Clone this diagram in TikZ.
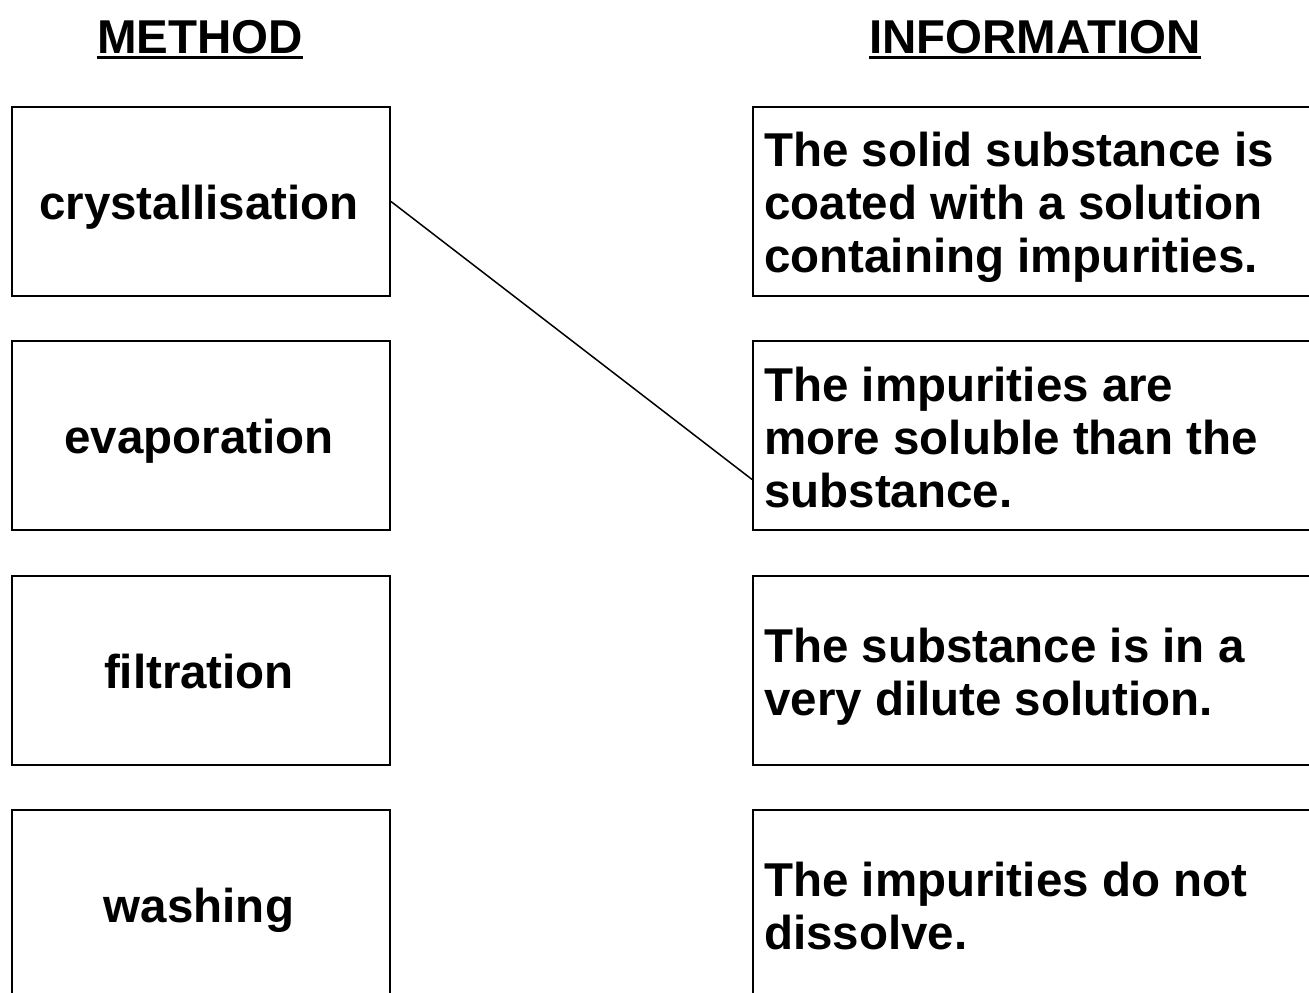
\documentclass[tikz,border=0pt]{standalone}
\usepackage{fontspec}
\setmainfont{Liberation Sans}
\usetikzlibrary{calc}
\begin{document}
\begin{tikzpicture}[x=1pt,y=-1pt,
  box/.style={draw,line width=2pt,rectangle,inner sep=0pt,anchor=north west},
  lbl/.style={font=\fontsize{47.5}{53}\selectfont\bfseries,inner sep=0pt},
  info/.style={lbl,align=left,anchor=west},
  head/.style={lbl,anchor=base}]
\useasboundingbox (0,0) rectangle (1309,993);
\clip (0,0) rectangle (1309,993);
% headings
\node[head] (hm) at (200,53) {METHOD};
\node[head] (hi) at (1035,53) {INFORMATION};
\draw[line width=3pt] ([yshift=-4.5pt]hm.base west) -- ([yshift=-4.5pt]hm.base east);
\draw[line width=3pt] ([yshift=-4.5pt]hi.base west) -- ([yshift=-4.5pt]hi.base east);
% left boxes
\node[box,minimum width=378pt,minimum height=189pt] (l1) at (11,106) {};
\node[box,minimum width=378pt,minimum height=189pt] (l2) at (11,340) {};
\node[box,minimum width=378pt,minimum height=189pt] (l3) at (11,575) {};
\node[box,minimum width=378pt,minimum height=200pt] (l4) at (11,809) {};
% right boxes
\node[box,minimum width=580pt,minimum height=189pt] (r1) at (752,106) {};
\node[box,minimum width=580pt,minimum height=189pt] (r2) at (752,340) {};
\node[box,minimum width=580pt,minimum height=189pt] (r3) at (752,575) {};
\node[box,minimum width=580pt,minimum height=200pt] (r4) at (752,809) {};
% left texts
\node[lbl,anchor=base] (t1) at (199,219) {crystallisation};
\node[lbl,anchor=base] (t2) at (199,453) {evaporation};
\node[lbl,anchor=base] (t3) at (199,688) {filtration};
\node[lbl,anchor=base] (t4) at (199,922) {washing};
% right texts
\node[info] (i1) at (764,207.5) {The solid substance is\\coated with a solution\\containing impurities.};
\node[info] (i2) at (764,437.5) {The impurities are\\more soluble than the\\substance.};
\node[info] (i3) at (764,676.5) {The substance is in a\\very dilute solution.};
\node[info] (i4) at (764,906) {The impurities do not\\dissolve.};
% connector
\coordinate (e2) at ($(r2.north west)!0.73!(r2.south west)$);
\draw[line width=1.5pt] ($(l1.north east)!0.5!(l1.south east)$) -- (e2);
\end{tikzpicture}
\end{document}
